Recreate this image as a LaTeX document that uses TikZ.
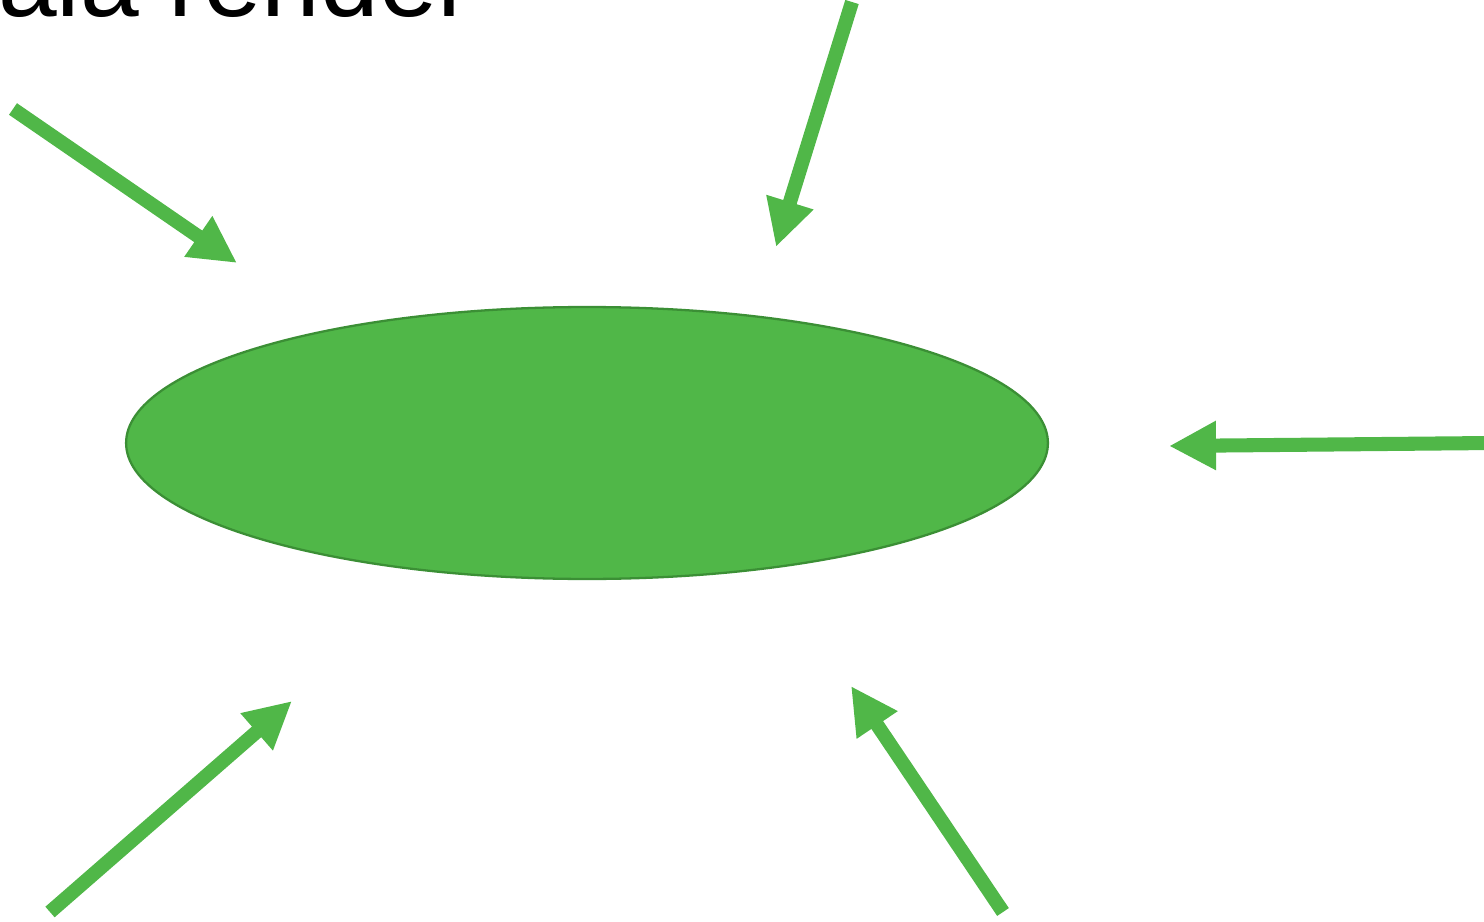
\documentclass[tikz,border=0pt]{standalone}
\usepackage{fontspec}
\setmainfont{Liberation Sans}
\usetikzlibrary{arrows.meta,positioning,shapes.geometric}
\definecolor{leaf}{HTML}{50B748}
\definecolor{leafdark}{HTML}{3B8F35}
\tikzset{
  blob/.style={ellipse, draw=leafdark, fill=leaf, line width=1.3pt,
               minimum width=18.44cm, minimum height=5.44cm, inner sep=0pt},
  push/.style={-{Triangle[length=0.94cm,width=0.92cm]}, line width=8pt, draw=leaf},
  caption/.style={anchor=base west, inner sep=0pt, font=\fontsize{60}{72}\selectfont}
}
\begin{document}
\begin{tikzpicture}[x=0.02cm,y=-0.02cm]
        \useasboundingbox (0,0) rectangle (1484,922);
        % cropped title
        \node[caption] (title) at (-2,17) {ala render};

        % the cell
        \node[blob] (cell) at (587,443) {};

        % arrow tails and tips
        \coordinate (a1) at (13,109);   \coordinate (b1) at (237,263);
        \coordinate (a2) at (852,2);    \coordinate (b2) at (776,247);
        \coordinate (a3) at (1492,443); \coordinate (b3) at (1169,446);
        \coordinate (a4) at (50,912);   \coordinate (b4) at (292,701);
        \coordinate (a5) at (1003,912); \coordinate (b5) at (851,686);
        \foreach \i in {1,...,5} {
          \draw[push] (a\i) -- (b\i);
        }
      \end{tikzpicture}
\end{document}
